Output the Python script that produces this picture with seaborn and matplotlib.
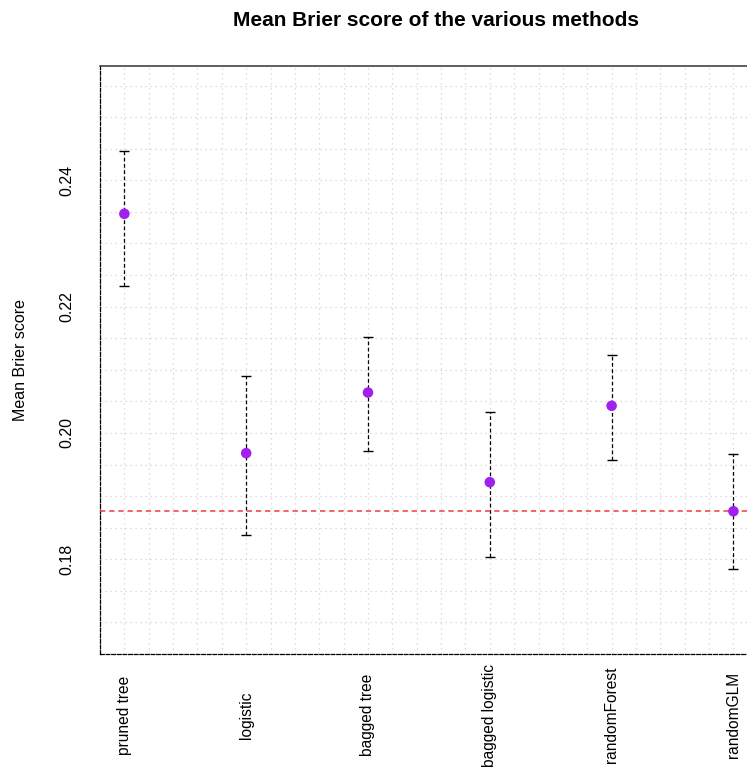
import matplotlib
matplotlib.use("Agg")
import matplotlib.pyplot as plt
import numpy as np
import pandas as pd
import seaborn as sns

methods = ["pruned tree", "logistic", "bagged tree", "bagged logistic", "randomForest", "randomGLM"]
mean_brier = [0.2347, 0.1968, 0.2064, 0.1922, 0.2043, 0.1876]
lower_ci = [0.2233, 0.1838, 0.1972, 0.1804, 0.1957, 0.1784]
upper_ci = [0.2447, 0.2090, 0.2152, 0.2033, 0.2124, 0.1966]
y_ticks = [0.18, 0.20, 0.22, 0.24]

df = pd.DataFrame({"method": methods, "mean": mean_brier, "lower": lower_ci, "upper": upper_ci})
df["pos"] = np.arange(1, len(df) + 1)

sns.set_style("white")
plt.rcParams["font.family"] = ["Liberation Sans", "DejaVu Sans"]
plt.rcParams["text.color"] = "black"
plt.rcParams["axes.labelcolor"] = "black"
plt.rcParams["xtick.color"] = "black"
plt.rcParams["ytick.color"] = "black"

fig = plt.figure(figsize=(7.47, 7.67), dpi=100)
W, H = 747, 767
# plot region runs past the right edge of the picture, as in the reference
ax = fig.add_axes([100 / W, 1 - 654 / H, 659 / W, (654 - 66) / H])

ax.set_xlim(0.81, 6.21)
ax.set_ylim(0.165, 0.2581)

ax.set_xticks(df["pos"])
ax.set_xticks(np.arange(0.8, 6.25, 0.2), minor=True)
ax.set_yticks(y_ticks)
ax.set_yticks(np.arange(0.165, 0.2581, 0.005), minor=True)
ax.grid(which="both", color="#d2d2d2", linestyle=(0, (1, 3)), linewidth=0.9)
ax.set_axisbelow(True)

eb = ax.errorbar(df["pos"], df["mean"],
                 yerr=[df["mean"] - df["lower"], df["upper"] - df["mean"]],
                 fmt="none", ecolor="black", elinewidth=0.9, capsize=3.3, capthick=1.0, zorder=2)
eb.lines[2][0].set_linestyle((0, (3, 2)))

ax.axhline(df["mean"].min(), color="#f03c3c", linestyle=(0, (3.5, 2.5)), linewidth=1.1, zorder=3)

sns.scatterplot(data=df, x="pos", y="mean", color="#A020F0", s=58, edgecolor="none", ax=ax, zorder=4)

ax.set_xticklabels(df["method"], rotation=90, va="center", fontsize=11.2)
ax.set_yticklabels([f"{v:.2f}" for v in y_ticks], rotation=90, va="center", fontsize=11.5)
ax.tick_params(axis="x", which="major", length=0, pad=44)
ax.tick_params(axis="y", which="major", length=8.3, width=0.9, pad=10, color="black")
ax.tick_params(which="minor", length=0)

ax.set_xlabel("")
ax.set_ylabel("Mean Brier score", fontsize=11.5, labelpad=23)

for side in ["left", "bottom"]:
    ax.spines[side].set_linestyle((0, (3, 1.5)))
    ax.spines[side].set_color("black")
    ax.spines[side].set_linewidth(0.9)
ax.spines["top"].set_color("#333333")
ax.spines["top"].set_linewidth(1.1)
ax.spines["right"].set_visible(False)

fig.text(436 / W, 1 - 20 / H, "Mean Brier score of the various methods",
         ha="center", va="center", fontsize=15, fontweight="bold", color="black")

fig.savefig("out.png", dpi=100)
